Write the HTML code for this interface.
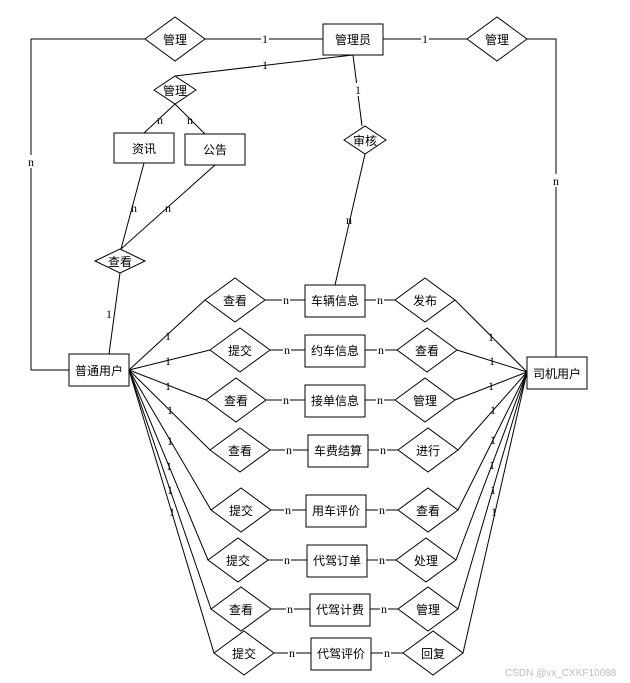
<!DOCTYPE html>
<html><head><meta charset="utf-8"><style>
html,body{margin:0;padding:0;background:#fff;}
svg{display:block;}
text{font-family:"Liberation Sans","Noto Sans CJK SC",sans-serif;font-size:12px;fill:#000;}
.c{font-family:"Liberation Serif",serif;font-size:12px;}
.lb{fill:#fff;}
</style></head><body>
<svg width="630" height="683" viewBox="0 0 630 683" xmlns="http://www.w3.org/2000/svg">
<g stroke="#000" stroke-width="1" fill="none">
<!-- top lines -->
<polyline points="145,39 31,39 31,370 69,370"/>
<line x1="205" y1="39" x2="323" y2="39"/>
<line x1="383" y1="39" x2="467" y2="39"/>
<polyline points="527,39 556,39 556,357"/>
<line x1="353" y1="55" x2="175" y2="76"/>
<line x1="353" y1="55" x2="362" y2="126"/>
<line x1="365" y1="154" x2="335" y2="285"/>
<line x1="175" y1="104" x2="144" y2="133"/>
<line x1="175" y1="104" x2="205" y2="134"/>
<line x1="144" y1="163" x2="121" y2="249"/>
<line x1="215" y1="165" x2="121" y2="249"/>
<line x1="120" y1="273" x2="109" y2="354"/>
<!-- row lines -->
<line x1="129" y1="370" x2="205" y2="300"/><line x1="265" y1="300" x2="305" y2="300"/><line x1="365" y1="300" x2="395" y2="300"/><line x1="455" y1="300" x2="527" y2="372"/>
<line x1="129" y1="370" x2="210" y2="350"/><line x1="270" y1="350" x2="305" y2="350"/><line x1="365" y1="350" x2="397" y2="350"/><line x1="457" y1="350" x2="527" y2="372"/>
<line x1="129" y1="370" x2="206" y2="400"/><line x1="266" y1="400" x2="305" y2="400"/><line x1="365" y1="400" x2="395" y2="400"/><line x1="455" y1="400" x2="527" y2="372"/>
<line x1="129" y1="370" x2="210" y2="450"/><line x1="270" y1="450" x2="308" y2="450"/><line x1="368" y1="450" x2="398" y2="450"/><line x1="458" y1="450" x2="527" y2="372"/>
<line x1="129" y1="370" x2="211" y2="510"/><line x1="271" y1="510" x2="306" y2="510"/><line x1="366" y1="510" x2="398" y2="510"/><line x1="458" y1="510" x2="527" y2="372"/>
<line x1="129" y1="370" x2="208" y2="560"/><line x1="268" y1="560" x2="307" y2="560"/><line x1="367" y1="560" x2="396" y2="560"/><line x1="456" y1="560" x2="527" y2="372"/>
<line x1="129" y1="370" x2="211" y2="609"/><line x1="271" y1="609" x2="310" y2="609"/><line x1="370" y1="609" x2="398" y2="609"/><line x1="458" y1="609" x2="527" y2="372"/>
<line x1="129" y1="370" x2="214" y2="653"/><line x1="274" y1="653" x2="311" y2="653"/><line x1="371" y1="653" x2="403" y2="653"/><line x1="463" y1="653" x2="527" y2="372"/>
</g>
<g stroke="#000" stroke-width="1" fill="#fff">
<rect x="323" y="24" width="60" height="31"/>
<rect x="114" y="133" width="60" height="30"/>
<rect x="185" y="134" width="60" height="31"/>
<rect x="69" y="354" width="60" height="32"/>
<rect x="527" y="357" width="60" height="32"/>
<polygon points="145,39 175,17 205,39 175,61"/>
<polygon points="467,39 497,17 527,39 497,61"/>
<polygon points="154,90 175,76 196,90 175,104"/>
<polygon points="344,140 365,126 386,140 365,154"/>
<polygon points="95,261 120,249 145,261 120,273"/>
<rect x="305" y="285" width="60" height="32"/>
<rect x="305" y="335" width="60" height="32"/>
<rect x="305" y="385" width="60" height="32"/>
<rect x="308" y="435" width="60" height="32"/>
<rect x="306" y="495" width="60" height="32"/>
<rect x="307" y="545" width="60" height="32"/>
<rect x="310" y="594" width="60" height="32"/>
<rect x="311" y="638" width="60" height="32"/>
<polygon points="205,300 235,278 265,300 235,322"/>
<polygon points="210,350 240,328 270,350 240,372"/>
<polygon points="206,400 236,378 266,400 236,422"/>
<polygon points="210,450 240,428 270,450 240,472"/>
<polygon points="211,510 241,488 271,510 241,532"/>
<polygon points="208,560 238,538 268,560 238,582"/>
<polygon points="211,609 241,587 271,609 241,631"/>
<polygon points="214,653 244,631 274,653 244,675"/>
<polygon points="395,300 425,278 455,300 425,322"/>
<polygon points="397,350 427,328 457,350 427,372"/>
<polygon points="395,400 425,378 455,400 425,422"/>
<polygon points="398,450 428,428 458,450 428,472"/>
<polygon points="398,510 428,488 458,510 428,532"/>
<polygon points="396,560 426,538 456,560 426,582"/>
<polygon points="398,609 428,587 458,609 428,631"/>
<polygon points="403,653 433,631 463,653 433,675"/>
</g>
<g text-anchor="middle">
<text x="353" y="44">管理员</text>
<text x="175" y="44">管理</text>
<text x="497" y="44">管理</text>
<text x="175" y="95">管理</text>
<text x="365" y="145">审核</text>
<text x="144" y="153">资讯</text>
<text x="215" y="154">公告</text>
<text x="120" y="266">查看</text>
<text x="99" y="375">普通用户</text>
<text x="557" y="378">司机用户</text>
<text x="335" y="305">车辆信息</text><text x="235" y="305">查看</text><text x="425" y="305">发布</text>
<text x="335" y="355">约车信息</text><text x="240" y="355">提交</text><text x="427" y="355">查看</text>
<text x="335" y="405">接单信息</text><text x="236" y="405">查看</text><text x="425" y="405">管理</text>
<text x="338" y="455">车费结算</text><text x="240" y="455">查看</text><text x="428" y="455">进行</text>
<text x="336" y="515">用车评价</text><text x="241" y="515">提交</text><text x="428" y="515">查看</text>
<text x="337" y="565">代驾订单</text><text x="238" y="565">提交</text><text x="426" y="565">处理</text>
<text x="340" y="614">代驾计费</text><text x="241" y="614">查看</text><text x="428" y="614">管理</text>
<text x="341" y="658">代驾评价</text><text x="244" y="658">提交</text><text x="433" y="658">回复</text>
</g>
<g text-anchor="middle" class="c">
<rect class="lb" x="261" y="32" width="8" height="13"/><text class="c" x="265" y="43">1</text>
<rect class="lb" x="421" y="32" width="8" height="13"/><text class="c" x="425" y="43">1</text>
<text class="c" x="265" y="69">1</text>
<rect class="lb" x="354" y="83" width="8" height="13"/><text class="c" x="358" y="94">1</text>
<rect class="lb" x="27" y="155" width="8" height="13"/><text class="c" x="31" y="166">n</text>
<rect class="lb" x="552" y="174" width="8" height="13"/><text class="c" x="556" y="185">n</text>
<text class="c" x="160" y="124">n</text><text class="c" x="190" y="124">n</text>
<text class="c" x="134" y="212">n</text><text class="c" x="168" y="212">n</text>
<text class="c" x="349" y="224">n</text>
<text class="c" x="109" y="318">1</text>
<text class="c" x="168" y="340">1</text><text class="c" x="168" y="365">1</text><text class="c" x="168" y="390">1</text><text class="c" x="170" y="414">1</text>
<text class="c" x="170" y="445">1</text><text class="c" x="169" y="470">1</text><text class="c" x="170" y="494">1</text><text class="c" x="172" y="516">1</text>
<text class="c" x="491" y="341">1</text><text class="c" x="492" y="365">1</text><text class="c" x="491" y="390">1</text><text class="c" x="493" y="414">1</text>
<text class="c" x="493" y="444">1</text><text class="c" x="492" y="469">1</text><text class="c" x="493" y="494">1</text><text class="c" x="494" y="516">1</text>
</g>
<g text-anchor="middle">
<rect class="lb" x="282" y="294" width="8" height="12"/><text class="c" x="286" y="304">n</text>
<rect class="lb" x="376" y="294" width="8" height="12"/><text class="c" x="380" y="304">n</text>
<rect class="lb" x="283" y="344" width="8" height="12"/><text class="c" x="287" y="354">n</text>
<rect class="lb" x="377" y="344" width="8" height="12"/><text class="c" x="381" y="354">n</text>
<rect class="lb" x="282" y="394" width="8" height="12"/><text class="c" x="286" y="404">n</text>
<rect class="lb" x="376" y="394" width="8" height="12"/><text class="c" x="380" y="404">n</text>
<rect class="lb" x="285" y="444" width="8" height="12"/><text class="c" x="289" y="454">n</text>
<rect class="lb" x="379" y="444" width="8" height="12"/><text class="c" x="383" y="454">n</text>
<rect class="lb" x="284" y="504" width="8" height="12"/><text class="c" x="288" y="514">n</text>
<rect class="lb" x="378" y="504" width="8" height="12"/><text class="c" x="382" y="514">n</text>
<rect class="lb" x="283" y="554" width="8" height="12"/><text class="c" x="287" y="564">n</text>
<rect class="lb" x="378" y="554" width="8" height="12"/><text class="c" x="382" y="564">n</text>
<rect class="lb" x="286" y="603" width="8" height="12"/><text class="c" x="290" y="613">n</text>
<rect class="lb" x="380" y="603" width="8" height="12"/><text class="c" x="384" y="613">n</text>
<rect class="lb" x="288" y="647" width="8" height="12"/><text class="c" x="292" y="657">n</text>
<rect class="lb" x="383" y="647" width="8" height="12"/><text class="c" x="387" y="657">n</text>
</g>
<text x="505" y="676" style="font-size:10px;fill:#bbb;">CSDN @vx_CXKF10088</text>
</svg>
</body></html>
